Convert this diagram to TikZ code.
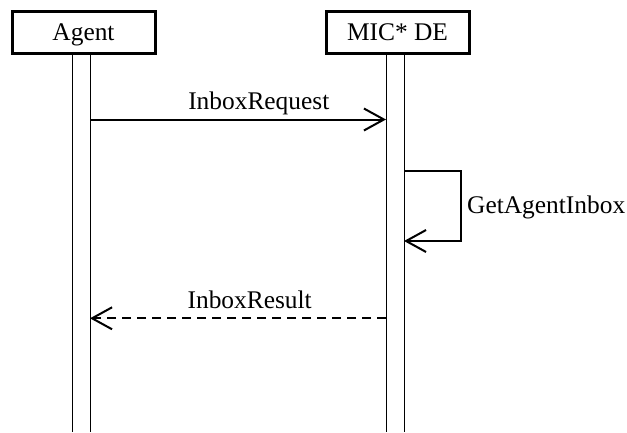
\documentclass[tikz,border=0pt]{standalone}
\usepackage{fontspec}
\setmainfont{Liberation Serif}
\usetikzlibrary{arrows.meta}
\begin{document}
\begin{tikzpicture}[x=1pt,y=-1pt,
  every node/.style={font=\fontsize{25.4}{30}\selectfont, inner sep=0pt},
  actor/.style={draw, line width=3pt, minimum width=143pt, minimum height=42pt, text height=16pt, text depth=0pt},
  life/.style={line width=1pt},
  msg/.style={line width=2pt, -{Straight Barb[length=20pt,width=22pt,line width=2pt]}},
  reply/.style={msg, dash pattern=on 9.5pt off 5.5pt},
  lbl/.style={anchor=base}]
\useasboundingbox (0,0) rectangle (627,432);
% actors
\node[actor] (agent) at (83.5,32) {Agent};
\node[actor] (mic) at (397.5,32) {MIC* DE};
% lifelines
\coordinate (aLt) at (72,53);  \coordinate (aLb) at (72,432);
\coordinate (aRt) at (90,53);  \coordinate (aRb) at (90,432);
\coordinate (mLt) at (386,53); \coordinate (mLb) at (386,432);
\coordinate (mRt) at (404,53); \coordinate (mRb) at (404,432);
\draw[life] (aLt) -- (aLb);
\draw[life] (aRt) -- (aRb);
\draw[life] (mLt) -- (mLb);
\draw[life] (mRt) -- (mRb);
% message anchors
\coordinate (req0) at (90,119.5);  \coordinate (req1) at (386,119.5);
\coordinate (self0) at (404,171);  \coordinate (self1) at (404,241);
\coordinate (res0) at (386,318.3); \coordinate (res1) at (90,318.3);
% InboxRequest
\draw[msg] (req0) -- (req1);
\node[lbl] (lreq) at (258.8,109.3) {InboxRequest};
% GetAgentInbox
\draw[msg, line join=miter] (self0) -- (460.5,171) -- (460.5,241) -- (self1);
\node[anchor=base west] (lself) at (467,213.3) {GetAgentInbox};
% InboxResult
\draw[reply] (res0) -- (res1);
\node[lbl] (lres) at (249.7,308.3) {InboxResult};
\end{tikzpicture}
\end{document}
